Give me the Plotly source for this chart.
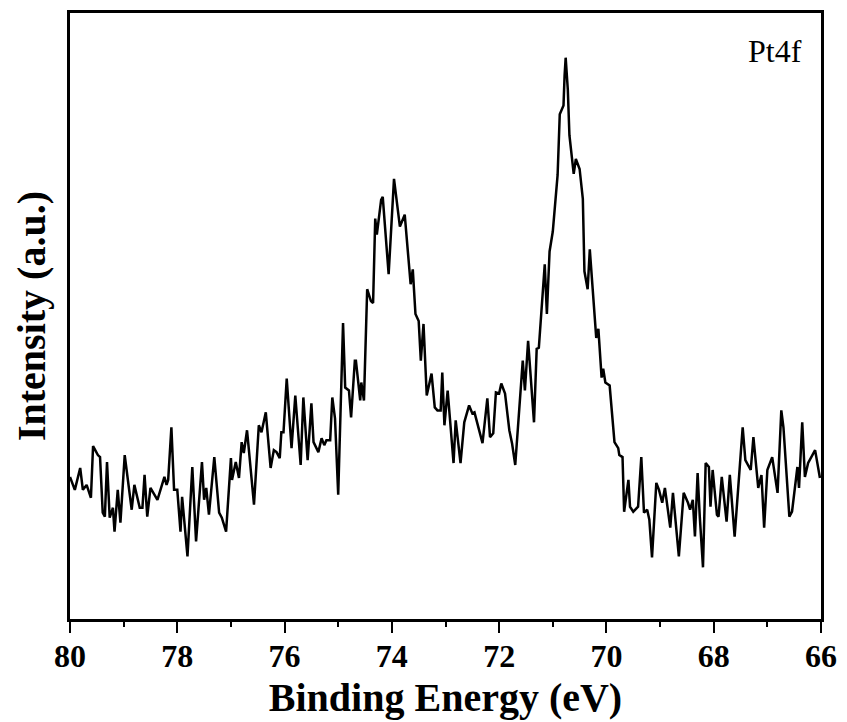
import plotly.graph_objects as go

# Binding energy (eV) and intensity (a.u.)
energy = [
    80.00, 79.91, 79.81, 79.76, 79.69, 79.61, 79.57, 79.48, 79.44, 79.39, 79.35, 79.31, 79.26, 79.20, 79.17,
    79.11, 79.06, 78.98, 78.85, 78.80, 78.70, 78.65, 78.61, 78.56, 78.50, 78.37, 78.24, 78.20, 78.17, 78.11,
    78.06, 78.00, 77.94, 77.91, 77.81, 77.72, 77.65, 77.54, 77.50, 77.46, 77.41, 77.31, 77.22, 77.17, 77.09,
    77.00, 76.98, 76.91, 76.85, 76.80, 76.76, 76.70, 76.67, 76.57, 76.48, 76.43, 76.35, 76.26, 76.20, 76.15,
    76.09, 76.06, 76.02, 75.96, 75.87, 75.80, 75.70, 75.65, 75.57, 75.50, 75.46, 75.37, 75.31, 75.26, 75.22,
    75.15, 75.11, 75.06, 75.00, 74.91, 74.87, 74.80, 74.76, 74.69, 74.67, 74.59, 74.57, 74.52, 74.46, 74.39,
    74.35, 74.31, 74.28, 74.20, 74.17, 74.06, 73.96, 73.85, 73.76, 73.65, 73.61, 73.56, 73.50, 73.46, 73.41,
    73.35, 73.26, 73.20, 73.15, 73.09, 73.06, 73.02, 72.96, 72.85, 72.81, 72.72, 72.65, 72.56, 72.50, 72.46,
    72.31, 72.22, 72.17, 72.11, 72.06, 72.00, 71.96, 71.89, 71.81, 71.76, 71.70, 71.63, 71.56, 71.52, 71.46,
    71.35, 71.30, 71.26, 71.15, 71.11, 71.06, 71.00, 70.96, 70.91, 70.87, 70.80, 70.78, 70.76, 70.72, 70.69,
    70.61, 70.57, 70.50, 70.44, 70.41, 70.35, 70.31, 70.24, 70.19, 70.15, 70.09, 70.06, 70.02, 69.94, 69.85,
    69.78, 69.76, 69.70, 69.67, 69.59, 69.56, 69.50, 69.41, 69.35, 69.30, 69.24, 69.20, 69.15, 69.07, 69.02,
    68.96, 68.91, 68.81, 68.76, 68.65, 68.56, 68.48, 68.44, 68.39, 68.35, 68.30, 68.26, 68.20, 68.15, 68.09,
    68.06, 68.02, 67.94, 67.91, 67.85, 67.76, 67.70, 67.61, 67.46, 67.41, 67.31, 67.26, 67.17, 67.11, 67.06,
    67.00, 66.91, 66.81, 66.74, 66.70, 66.59, 66.54, 66.44, 66.41, 66.35, 66.30, 66.24, 66.11, 66.02,
]
intensity = [
    143, 130, 152, 130, 135, 122, 174, 165, 163, 107, 103, 158, 102, 112, 88,
    130, 97, 165, 110, 135, 112, 112, 145, 103, 132, 120, 143, 135, 140, 193,
    130, 130, 88, 123, 63, 153, 78, 158, 120, 132, 105, 163, 107, 102, 88,
    162, 140, 158, 142, 178, 167, 190, 173, 115, 195, 188, 208, 152, 170, 168,
    162, 188, 188, 242, 172, 225, 155, 223, 160, 217, 178, 168, 182, 175, 180,
    180, 223, 202, 125, 298, 233, 230, 203, 260, 260, 220, 238, 220, 332, 320,
    318, 403, 387, 422, 425, 347, 443, 395, 407, 337, 352, 307, 300, 260, 297,
    225, 247, 213, 210, 210, 248, 195, 230, 157, 200, 157, 198, 215, 207, 208,
    177, 222, 183, 187, 228, 227, 237, 227, 190, 177, 155, 210, 260, 230, 280,
    198, 272, 273, 357, 307, 370, 390, 413, 447, 508, 517, 547, 565, 533, 487,
    448, 463, 453, 423, 350, 332, 372, 317, 283, 292, 243, 252, 238, 235, 178,
    172, 165, 163, 108, 140, 113, 108, 113, 163, 107, 110, 100, 62, 137, 130,
    117, 132, 92, 127, 63, 127, 117, 110, 120, 83, 147, 103, 52, 157, 153,
    113, 150, 105, 103, 143, 98, 145, 83, 193, 160, 150, 183, 132, 145, 92,
    150, 163, 127, 210, 193, 103, 108, 153, 132, 198, 143, 157, 170, 142,
]

x_ticks = [80, 78, 76, 74, 72, 70, 68, 66]
x_title = "Binding Energy (eV)"
y_title = "Intensity (a.u.)"
label = "Pt4f"

FONT = "Liberation Serif"

fig = go.Figure()
fig.add_trace(go.Scatter(
    x=energy, y=intensity, mode="lines",
    line=dict(color="black", width=2.5),
    showlegend=False, hoverinfo="skip",
))

fig.update_layout(
    width=847, height=722,
    margin=dict(l=70, r=21, t=10, b=102),
    paper_bgcolor="white", plot_bgcolor="white",
    font=dict(family=FONT, color="black"),
    xaxis=dict(
        range=[80, 66], tickvals=x_ticks,
        ticks="outside", ticklen=11, tickwidth=2, tickcolor="black",
        minor=dict(dtick=1, ticks="outside", ticklen=5, tickwidth=2, tickcolor="black"),
        showline=True, linewidth=2.5, linecolor="black", mirror=True,
        showgrid=False, zeroline=False,
        ticklabelstandoff=-4,
        tickfont=dict(family=FONT, size=32, weight="bold", color="black"),
        title=dict(text=x_title, font=dict(family=FONT, size=40, weight="bold", color="black"), standoff=10),
    ),
    yaxis=dict(
        range=[0, 610], showticklabels=False, ticks="",
        showline=True, linewidth=2.5, linecolor="black", mirror=True,
        showgrid=False, zeroline=False,
        title=dict(text=y_title, font=dict(family=FONT, size=40, weight="bold", color="black"), standoff=10),
    ),
    annotations=[dict(
        text=label, xref="paper", yref="paper", x=0.978, y=0.937,
        xanchor="right", yanchor="middle", showarrow=False,
        font=dict(family=FONT, size=32, color="black"),
    )],
)

fig.write_html("out.html")
